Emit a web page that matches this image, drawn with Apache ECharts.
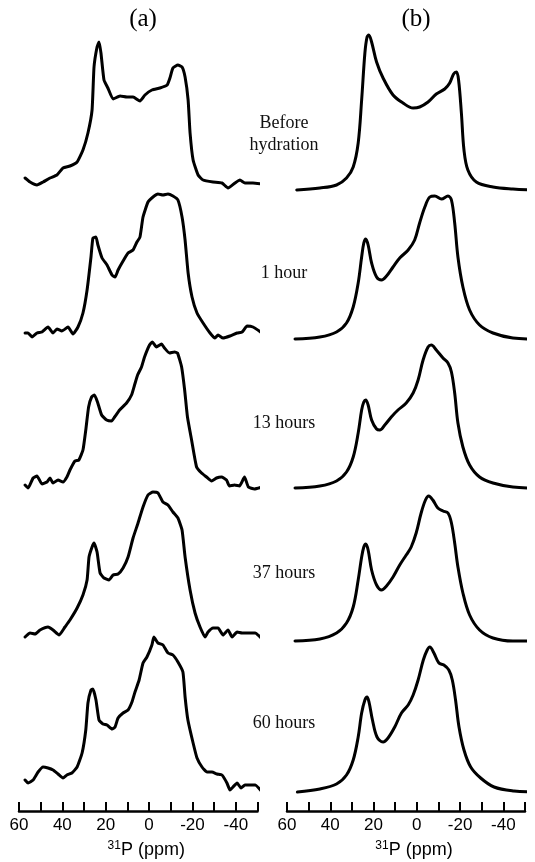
<!DOCTYPE html>
<html>
<head>
<meta charset="utf-8">
<script src="https://cdn.jsdelivr.net/npm/echarts@6/dist/echarts.min.js"></script>
<style>html,body{margin:0;padding:0;background:#fff}#c{width:535px;height:862px}</style>
</head>
<body>
<div id="c"></div>
<script>
// ---- data: [ppm, intensity] ----
const labels = ['Before\nhydration', '1 hour', '13 hours', '37 hours', '60 hours'];
const panelTitles = ['(a)', '(b)'];
const tickValues = [60, 40, 20, 0, -20, -40];

const aBefore = [[57.2,5],[54.9,1],[51.7,-2],[48.9,1],[45.7,5],[42.5,8],[39.7,15],[36.5,17],[33.2,21],[30.5,33],[28.2,50],[26.3,73],[25.4,116],[24.0,136],[23.1,141],[22.2,130],[20.8,103],[19.0,95],[16.6,84],[13.4,87],[10.2,86],[7.4,86],[4.2,82],[1.9,88],[-1.3,93],[-5.0,95],[-8.3,98],[-9.6,105],[-11.0,115],[-13.3,118],[-15.2,116],[-16.6,106],[-18.0,83],[-18.9,50],[-20.3,23],[-22.6,8],[-24.9,3],[-29.5,1],[-33.6,0],[-36.4,-5],[-39.6,0],[-41.9,3],[-44.2,0],[-47.9,0],[-52.1,-1]];
const a1h = [[57.2,0],[55.8,0],[54.0,-4],[51.7,0],[49.4,1],[46.6,6],[44.3,0],[42.5,4],[40.2,2],[37.4,6],[35.1,-1],[32.8,6],[30.5,20],[28.6,43],[26.8,76],[25.9,95],[24.5,96],[23.6,88],[21.7,75],[19.4,68],[17.1,58],[15.7,56],[14.3,63],[12.0,72],[9.7,80],[7.4,83],[5.6,91],[4.2,96],[2.8,116],[0.5,131],[-1.8,136],[-4.1,139],[-6.4,138],[-8.7,139],[-11.0,137],[-13.3,133],[-15.2,116],[-16.6,93],[-18.0,60],[-19.8,36],[-22.1,20],[-24.9,10],[-28.1,0],[-30.4,-5],[-31.8,-2],[-34.1,-5],[-37.3,-3],[-40.6,0],[-42.9,1],[-45.2,7],[-47.9,6],[-52.1,0]];
const a13h = [[57.2,0],[55.8,-3],[53.5,7],[51.7,9],[49.4,1],[47.1,3],[45.7,7],[44.3,2],[42.0,5],[39.7,3],[37.9,8],[36.5,15],[34.2,24],[32.4,25],[30.5,35],[29.2,55],[27.9,78],[26.5,88],[25.2,90],[23.8,83],[21.9,70],[19.6,65],[17.3,64],[15.9,68],[13.6,75],[10.4,82],[8.1,90],[6.7,100],[5.3,110],[3.5,118],[2.1,128],[-0.2,140],[-1.5,143],[-3.4,138],[-5.7,141],[-7.1,137],[-9.4,132],[-11.7,133],[-13.1,132],[-15.0,118],[-16.4,95],[-17.7,68],[-19.6,45],[-21.9,18],[-24.2,12],[-26.5,8],[-28.8,4],[-31.1,7],[-33.4,8],[-35.7,5],[-37.1,-1],[-39.4,0],[-41.7,-1],[-44.0,8],[-45.8,-2],[-48.6,-4],[-52.1,-2]];
const a37h = [[57.2,-2],[54.9,2],[52.6,1],[50.3,5],[46.6,8],[44.3,5],[41.5,0],[38.8,8],[36.5,15],[33.2,27],[30.5,40],[28.6,55],[27.7,78],[26.3,88],[25.4,92],[24.0,83],[22.6,62],[20.8,57],[18.5,55],[16.6,60],[14.3,61],[12.0,67],[9.7,78],[7.4,97],[5.1,112],[2.8,128],[0.5,140],[-1.8,143],[-4.1,142],[-6.4,133],[-8.7,130],[-11.0,123],[-13.3,117],[-15.2,105],[-16.6,78],[-18.9,45],[-21.2,22],[-23.5,8],[-25.8,-2],[-27.2,3],[-29.5,7],[-31.8,7],[-34.1,0],[-36.4,5],[-38.3,-2],[-40.6,3],[-42.9,2],[-45.7,2],[-48.9,2],[-52.1,-4]];
const a60h = [[57.2,3],[55.8,0],[53.5,3],[51.2,11],[48.9,16],[46.6,15],[44.3,13],[42.0,9],[39.7,5],[37.9,8],[35.6,10],[33.2,16],[30.9,30],[29.2,53],[28.2,80],[26.8,93],[25.9,94],[24.5,83],[23.1,63],[21.3,59],[19.4,58],[17.1,54],[15.7,56],[14.3,65],[12.0,70],[9.7,73],[7.9,81],[6.5,91],[4.6,103],[2.8,120],[1.0,126],[-1.3,138],[-2.2,146],[-4.1,140],[-6.4,138],[-8.7,130],[-11.0,128],[-13.3,121],[-15.6,111],[-16.6,86],[-17.9,63],[-20.3,40],[-22.1,25],[-24.4,16],[-26.7,11],[-29.0,11],[-31.3,9],[-33.6,8],[-35.9,0],[-37.3,-7],[-38.7,-4],[-40.6,0],[-42.4,-5],[-44.2,-2],[-46.5,-2],[-48.9,-2],[-52.1,-9]];

const bBefore = [[55.5,0],[44.8,2],[37.1,5],[32.5,12],[29.4,23],[27.1,47],[25.5,90],[24.0,137],[23.0,153],[22.2,155],[20.9,148],[18.6,128],[15.6,112],[11.0,95],[6.4,87],[1.7,82],[-1.3,83],[-5.2,88],[-9.0,96],[-12.9,101],[-15.2,107],[-17.0,116],[-18.3,118],[-19.3,110],[-20.6,77],[-21.8,40],[-23.6,20],[-27.5,8],[-35.2,3],[-44.4,1],[-54.4,0]];
const b1h = [[56.3,0],[44.8,2],[37.1,7],[32.5,16],[29.4,32],[27.1,56],[25.5,82],[24.5,96],[23.6,100],[22.5,94],[20.9,76],[18.6,62],[16.3,59],[14.0,63],[11.0,72],[7.9,81],[4.0,89],[1.0,99],[-1.3,116],[-3.7,132],[-6.0,142],[-8.3,143],[-11.4,140],[-14.4,143],[-16.0,139],[-17.5,116],[-19.0,82],[-21.3,52],[-24.4,29],[-29.0,14],[-35.2,6],[-44.4,1],[-54.4,0]];
const b13h = [[56.3,0],[44.8,2],[37.1,7],[32.5,16],[29.4,31],[27.1,55],[25.5,78],[24.5,86],[23.6,88],[22.5,83],[20.9,68],[18.6,59],[17.1,58],[14.8,63],[11.8,71],[8.7,78],[4.9,85],[1.7,95],[-0.6,108],[-2.9,128],[-5.2,141],[-6.7,143],[-9.0,138],[-12.1,130],[-14.4,125],[-16.0,116],[-17.5,95],[-19.0,65],[-21.3,41],[-24.4,23],[-29.0,11],[-35.2,5],[-44.4,1],[-54.4,0]];
const b37h = [[56.3,0],[44.8,2],[37.1,8],[32.5,18],[29.4,34],[27.1,61],[25.5,84],[24.5,94],[23.6,97],[22.5,91],[20.9,71],[18.6,56],[16.3,51],[14.0,55],[11.0,64],[7.9,76],[4.9,86],[2.6,94],[0.3,108],[-2.0,128],[-4.0,141],[-5.5,145],[-7.4,141],[-9.7,133],[-12.1,130],[-14.4,128],[-16.0,118],[-17.5,98],[-19.0,74],[-21.3,48],[-24.4,26],[-29.0,11],[-35.2,3],[-44.4,0],[-54.4,0]];
const b60h = [[55.2,0],[44.8,3],[37.1,8],[32.5,17],[29.4,32],[27.1,55],[25.5,79],[24.0,92],[23.0,95],[22.1,90],[20.5,72],[18.4,55],[15.6,50],[13.3,54],[10.2,65],[7.1,79],[4.0,87],[1.7,97],[-0.6,112],[-3.0,132],[-4.8,142],[-6.0,145],[-7.9,139],[-10.2,129],[-12.5,127],[-14.8,122],[-16.4,112],[-17.9,92],[-19.5,65],[-21.8,42],[-24.9,25],[-29.5,14],[-35.7,5],[-44.9,1],[-54.4,0]];

// ---- layout ----
const panels = [
  {left: 19, width: 238.5, spectra: [aBefore, a1h, a13h, a37h, a60h], baselines: [183, 333, 485, 635, 783], smooth: 0.15},
  {left: 287, width: 238, spectra: [bBefore, b1h, b13h, b37h, b60h], baselines: [190, 339, 488, 641, 792], smooth: 0.35}
];
const AXIS_Y = 811;
const serif = '"Liberation Serif", "Times New Roman", serif';
const sans = '"Liberation Sans", Arial, sans-serif';

const grid = [], xAxis = [], yAxis = [], series = [];
panels.forEach((p) => {
  p.spectra.forEach((d, k) => {
    const idx = grid.length;
    grid.push({left: p.left, width: p.width, top: p.baselines[k] - 150, height: 170});
    xAxis.push({type: 'value', gridIndex: idx, min: -50, max: 60, inverse: true, show: false});
    yAxis.push({type: 'value', gridIndex: idx, min: -20, max: 150, show: false});
    series.push({
      type: 'line', xAxisIndex: idx, yAxisIndex: idx, data: d,
      symbol: 'none', smooth: p.smooth, clip: false, silent: true,
      lineStyle: {color: '#000', width: 3, join: 'round', cap: 'round'}
    });
  });
  const idx = grid.length;
  grid.push({left: p.left, width: p.width, top: AXIS_Y - 100, height: 100});
  xAxis.push({
    type: 'value', gridIndex: idx, min: -50, max: 60, interval: 10, inverse: true,
    axisLine: {show: true, lineStyle: {color: '#000', width: 2.5}},
    axisTick: {show: true, inside: true, length: 9, lineStyle: {color: '#000', width: 2}},
    splitLine: {show: false},
    axisLabel: {
      margin: 6, color: '#000', fontSize: 17, fontFamily: sans,
      showMinLabel: true, showMaxLabel: true,
      formatter: (v) => tickValues.indexOf(v) >= 0 ? String(v) : ''
    },
    name: '{sup|31}{main|P (ppm)}', nameLocation: 'middle', nameGap: 29,
    nameTextStyle: {
      padding: [0, 0, 0, 16],
      rich: {
        sup: {fontSize: 12, fontFamily: sans, color: '#000', verticalAlign: 'top', lineHeight: 20},
        main: {fontSize: 18, fontFamily: sans, color: '#000', lineHeight: 20}
      }
    }
  });
  yAxis.push({type: 'value', gridIndex: idx, min: 0, max: 1, show: false});
});

const labelYs = [134, 273, 423, 573, 723];
const graphic = [];
panelTitles.forEach((t, i) => {
  graphic.push({type: 'text', x: i === 0 ? 143 : 416, y: 19,
    style: {text: t, fontSize: 25, fontFamily: serif, fill: '#000', align: 'center', verticalAlign: 'middle'}});
});
labels.forEach((t, i) => {
  graphic.push({type: 'text', x: 284, y: labelYs[i],
    style: {text: t, fontSize: 18, lineHeight: 22, fontFamily: serif, fill: '#111', align: 'center', verticalAlign: 'middle'}});
});

const chart = echarts.init(document.getElementById('c'), null, {renderer: 'canvas'});
chart.setOption({animation: false, backgroundColor: '#fff', grid, xAxis, yAxis, series, graphic});
</script>
</body>
</html>
